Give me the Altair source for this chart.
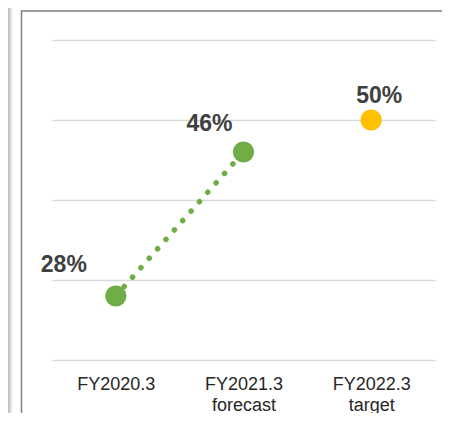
import altair as alt
import pandas as pd

# ---- data ----
categories = ["FY2020.3", "FY2021.3", "FY2022.3"]
sublabels = ["", "forecast", "target"]
values = [28, 46, 50]
kinds = ["actual", "forecast", "target"]

labels = [c if s == "" else f"{c}|{s}" for c, s in zip(categories, sublabels)]
df = pd.DataFrame({
    "label": labels,
    "value": values,
    "kind": kinds,
    "text": [f"{v}%" for v in values],
})

GREEN = "#70AD47"
YELLOW = "#FFC000"
W, H = 383, 320

x_enc = alt.X(
    "label:N",
    sort=labels,
    scale=alt.Scale(type="point", padding=0.5),
    axis=alt.Axis(
        title=None, domain=False, ticks=False, grid=False, labelAngle=0,
        labelExpr="split(datum.value, '|')",
        labelFont="Liberation Sans", labelFontSize=18, labelColor="#262626",
        labelPadding=15, labelLineHeight=21, labelBaseline="top",
    ),
)
y_enc = alt.Y(
    "value:Q",
    scale=alt.Scale(domain=[20, 60], nice=False, zero=False),
    axis=alt.Axis(
        title=None, labels=False, ticks=False, domain=False,
        values=[20, 30, 40, 50, 60], grid=True,
        gridColor="#d9d9d9", gridWidth=1.5,
    ),
)

base = alt.Chart(df)

line = base.transform_filter(alt.datum.kind != "target").mark_line(
    color=GREEN, strokeWidth=5.5, strokeDash=[0.1, 12.5], strokeCap="round"
).encode(x=x_enc, y=y_enc)

points = base.mark_circle(size=450, opacity=1).encode(
    x=x_enc, y=y_enc,
    color=alt.Color(
        "kind:N",
        scale=alt.Scale(domain=kinds, range=[GREEN, GREEN, YELLOW]),
        legend=None,
    ),
)

offsets = {"actual": (-52, -24), "forecast": (-34, -21), "target": (8, -17)}
texts = []
for k in kinds:
    dx, dy = offsets[k]
    texts.append(
        base.transform_filter(alt.datum.kind == k).mark_text(
            font="Liberation Sans", fontSize=23, fontWeight="bold",
            color="#404040", align="center", baseline="alphabetic",
            dx=dx, dy=dy,
        ).encode(x=x_enc, y=y_enc, text="text:N")
    )

frame = alt.Chart(alt.Data(values=[{"a": 1}])).mark_rect(
    fill="transparent", stroke="#7f7f7f", strokeWidth=1.5
).encode(
    x=alt.value(-30.5), x2=alt.value(440),
    y=alt.value(-29), y2=alt.value(420),
)

shadow = alt.Chart(alt.Data(values=[{"a": 1}])).mark_rect(
    fill=alt.LinearGradient(
        gradient="linear",
        stops=[alt.GradientStop(color="#b8b8b8", offset=0),
               alt.GradientStop(color="#ffffff", offset=1)],
        x1=0, x2=1, y1=0, y2=0,
    )
).encode(
    x=alt.value(-44), x2=alt.value(-39),
    y=alt.value(-40), y2=alt.value(420),
)

chart = alt.layer(shadow, frame, line, points, *texts).properties(
    width=W, height=H,
    autosize=alt.AutoSizeParams(type="none"),
    padding={"left": 44, "top": 32, "right": 7, "bottom": 53},
    background="white",
).configure_view(stroke=None)

chart.save("out.html", embed_options={"renderer": "svg", "actions": False})
